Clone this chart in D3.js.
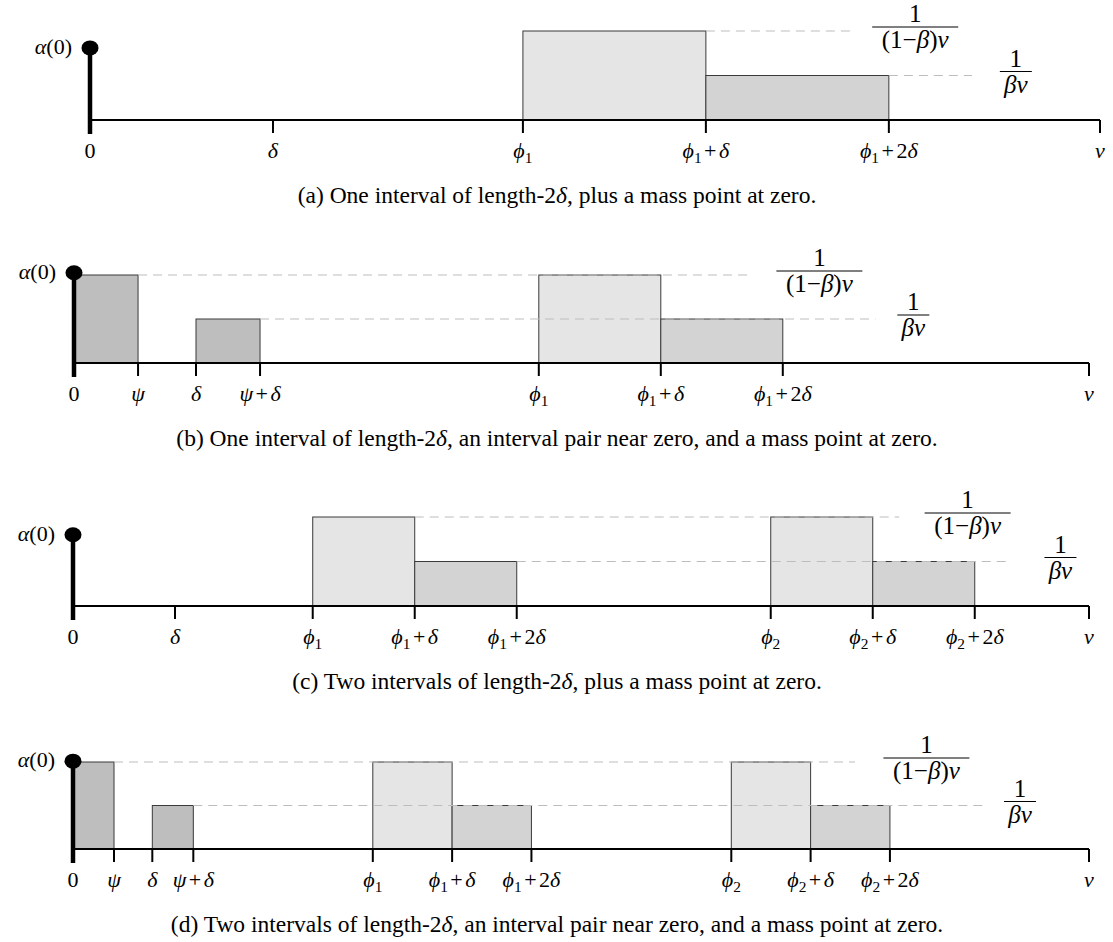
<!DOCTYPE html>
<html>
<head>
<meta charset="utf-8">
<script src="https://cdn.jsdelivr.net/npm/d3@7"></script>
<style>
  body { margin: 0; background: #fff; }
  text { font-family: "Liberation Serif", "Times New Roman", serif; fill: #000; }
</style>
</head>
<body>
<div id="chart"></div>
<script>
// values in units of delta, heights in units of 1/(beta v)
const ticksA = [0, 1, 2.366, 3.366, 4.366, 5.52]
const tickLabelsA = ["0", "δ", "ϕ_1", "ϕ_1+δ", "ϕ_1+2δ", "v"]
const barsA = [[2.366, 3.366, 2, "light"], [3.366, 4.366, 1, "mid"]]
const massA = 1.62

const ticksB = [0, 0.525, 1, 1.525, 3.81, 4.81, 5.81, 8.32]
const tickLabelsB = ["0", "ψ", "δ", "ψ+δ", "ϕ_1", "ϕ_1+δ", "ϕ_1+2δ", "v"]
const barsB = [[0, 0.525, 2, "dark"], [1, 1.525, 1, "dark"], [3.81, 4.81, 2, "light"], [4.81, 5.81, 1, "mid"]]
const massB = 2.05

const ticksC = [0, 1, 2.35, 3.35, 4.35, 6.84, 7.84, 8.84, 9.96]
const tickLabelsC = ["0", "δ", "ϕ_1", "ϕ_1+δ", "ϕ_1+2δ", "ϕ_2", "ϕ_2+δ", "ϕ_2+2δ", "v"]
const barsC = [[2.35, 3.35, 2, "light"], [3.35, 4.35, 1, "mid"], [6.84, 7.84, 2, "light"], [7.84, 8.84, 1, "mid"]]
const massC = 1.6

const ticksD = [0, 0.517, 1, 1.517, 3.78, 4.78, 5.78, 8.3, 9.3, 10.3, 12.81]
const tickLabelsD = ["0", "ψ", "δ", "ψ+δ", "ϕ_1", "ϕ_1+δ", "ϕ_1+2δ", "ϕ_2", "ϕ_2+δ", "ϕ_2+2δ", "v"]
const barsD = [[0, 0.517, 2, "dark"], [1, 1.517, 1, "dark"], [3.78, 4.78, 2, "light"], [4.78, 5.78, 1, "mid"],
               [8.3, 9.3, 2, "light"], [9.3, 10.3, 1, "mid"]]
const massD = 2.02

const levels = [2, 1]
const levelLabels = [["1", "(1−β)v"], ["1", "βv"]]

const captions = [
  "(a) One interval of length-2δ, plus a mass point at zero.",
  "(b) One interval of length-2δ, an interval pair near zero, and a mass point at zero.",
  "(c) Two intervals of length-2δ, plus a mass point at zero.",
  "(d) Two intervals of length-2δ, an interval pair near zero, and a mass point at zero."
]

const fills = {light: "#e5e5e5", mid: "#d3d3d3", dark: "#bebebe"}

// layout of each panel (pixels, and label spots in delta units)
const panels = [
  {ticks: ticksA, labels: tickLabelsA, bars: barsA, mass: massA, x0: 90, x1: 1100, axisY: 120, unit: 44.5,
   dashEnd: [4.18, 4.82], fracX: [4.51, 5.06]},
  {ticks: ticksB, labels: tickLabelsB, bars: barsB, mass: massB, x0: 74, x1: 1089, axisY: 363, unit: 44,
   dashEnd: [5.56, 6.57], fracX: [6.11, 6.88]},
  {ticks: ticksC, labels: tickLabelsC, bars: barsC, mass: massC, x0: 73, x1: 1089, axisY: 606, unit: 44.5,
   dashEnd: [8.1, 9.2], fracX: [8.77, 9.68]},
  {ticks: ticksD, labels: tickLabelsD, bars: barsD, mass: massD, x0: 73, x1: 1089, axisY: 849, unit: 43.5,
   dashEnd: [9.86, 11.48], fracX: [10.76, 11.94]}
]

const svg = d3.select("#chart").append("svg")
    .attr("width", 1113)
    .attr("height", 942)

// write a little math string: greek letters and v in italic, _x as subscript
function mathText(t, str) {
    const italic = "αβδϕψv"
    let i = 0, lift = false, gap = false
    while (i < str.length) {
        const c = str[i]
        if (c === "_") {
            t.append("tspan").attr("font-size", "0.7em").attr("dy", 5).text(str[i + 1])
            lift = true
            i += 2
            continue
        }
        const ts = t.append("tspan").text(c)
        if (lift) { ts.attr("dy", -5); lift = false }
        if (c === "+") { ts.attr("dx", 2.5); gap = true }
        else if (gap) { ts.attr("dx", 2.5); gap = false }
        if (italic.includes(c)) ts.attr("font-style", "italic")
        i++
    }
    return t
}

panels.forEach((p, pi) => {
    const g = svg.append("g")
    const x = d3.scaleLinear()
        .domain([0, p.ticks[p.ticks.length - 1]])
        .range([p.x0, p.x1])
    const y = d3.scaleLinear()
        .domain([0, 1])
        .range([p.axisY, p.axisY - p.unit])

    // bars
    g.selectAll("rect.bar")
        .data(p.bars)
        .enter()
        .append("rect")
        .attr("x", d => x(d[0]))
        .attr("y", d => y(d[2]))
        .attr("width", d => x(d[1]) - x(d[0]))
        .attr("height", d => y(0) - y(d[2]))
        .attr("fill", d => fills[d[3]])
        .attr("stroke", "#3a3a3a")
        .attr("stroke-width", 1)

    // dashed guide lines, from the first step that ends at that level
    levels.forEach((lv, li) => {
        const start = d3.min(p.bars.filter(b => b[2] === lv), b => b[1])
        g.append("line")
            .attr("x1", x(start)).attr("x2", x(p.dashEnd[li]))
            .attr("y1", y(lv)).attr("y2", y(lv))
            .attr("stroke", "#bdbdbd")
            .attr("stroke-width", 1.2)
            .attr("stroke-dasharray", "9,6")

        // fraction label
        const cx = x(p.fracX[li]), fy = y(lv) - 4
        const w = li === 0 ? 86 : 32
        g.append("line")
            .attr("x1", cx - w / 2).attr("x2", cx + w / 2)
            .attr("y1", fy).attr("y2", fy)
            .attr("stroke", "#000").attr("stroke-width", 1)
        g.append("text").attr("x", cx).attr("y", fy - 5)
            .attr("text-anchor", "middle").attr("font-size", 25)
            .text(levelLabels[li][0])
        mathText(g.append("text").attr("x", cx).attr("y", fy + 21)
            .attr("text-anchor", "middle").attr("font-size", 25), levelLabels[li][1])
    })

    // axis
    g.append("line")
        .attr("x1", x(0)).attr("x2", x.range()[1])
        .attr("y1", p.axisY).attr("y2", p.axisY)
        .attr("stroke", "#000").attr("stroke-width", 2.2)

    g.selectAll("line.tick")
        .data(p.ticks.slice(1))
        .enter()
        .append("line")
        .attr("x1", d => x(d)).attr("x2", d => x(d))
        .attr("y1", p.axisY).attr("y2", p.axisY + 13)
        .attr("stroke", "#000").attr("stroke-width", 2)

    p.ticks.forEach((d, i) => {
        mathText(g.append("text")
            .attr("x", x(d)).attr("y", p.axisY + 38)
            .attr("text-anchor", "middle")
            .attr("font-size", 22), p.labels[i])
    })

    // mass point at zero
    g.append("line")
        .attr("x1", x(0)).attr("x2", x(0))
        .attr("y1", y(p.mass)).attr("y2", p.axisY + 14)
        .attr("stroke", "#000").attr("stroke-width", 4.5)
    g.append("ellipse")
        .attr("cx", x(0)).attr("cy", y(p.mass))
        .attr("rx", 8.5).attr("ry", 7.5)
        .attr("fill", "#000")
    mathText(g.append("text")
        .attr("x", x(0) - 18).attr("y", y(p.mass) + 6)
        .attr("text-anchor", "end")
        .attr("font-size", 22), "α(0)")

    // caption
    const cap = captions[pi].split("δ")
    const ct = g.append("text")
        .attr("x", 557).attr("y", p.axisY + 83)
        .attr("text-anchor", "middle")
        .attr("font-size", 23.5)
    ct.append("tspan").text(cap[0])
    ct.append("tspan").attr("font-style", "italic").text("δ")
    ct.append("tspan").text(cap[1])
})
</script>
</body>
</html>
